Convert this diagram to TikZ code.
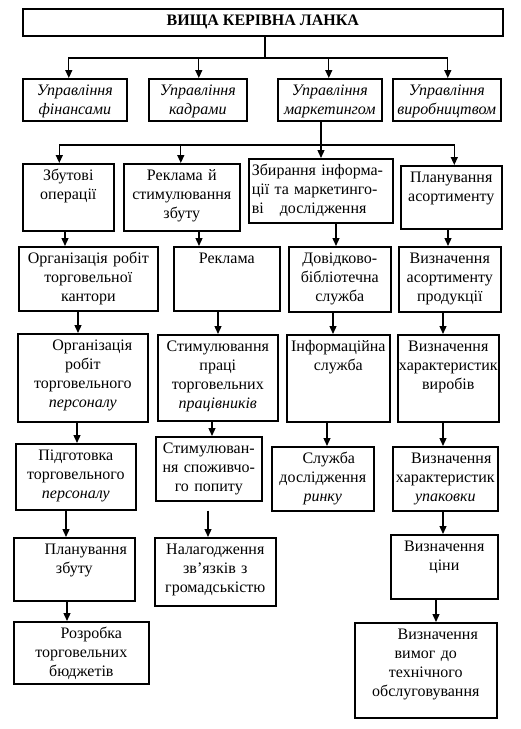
\documentclass[tikz,border=0pt]{standalone}
\usepackage{fontspec}
\setmainfont{Liberation Serif}
\usetikzlibrary{arrows.meta}

\begin{document}
\begin{tikzpicture}[x=1pt,y=-1pt]
    \tikzset{
        blk/.style={draw, line width=1.6pt, anchor=north west, align=center,
            inner xsep=0pt, inner ysep=4pt, text height=13pt,
            font=\fontsize{16}{19}\selectfont},
        head/.style={blk, font=\fontsize{16}{19}\selectfont\itshape},
        arr/.style={line width=1.3pt, -{Triangle[length=8pt,width=7pt]}}
    }
    \useasboundingbox (0,0) rectangle (521,729);
    \node[draw, line width=1.6pt, anchor=north west, minimum width=480, minimum height=27,
        font=\fontsize{16}{19}\selectfont\bfseries] (top) at (22,8) {ВИЩА КЕРІВНА ЛАНКА};

    \node[head, text width=104, text depth=21pt] (uf) at (22,78) {Управління\\фінансами};
    \node[head, text width=98, text depth=21pt] (uk) at (148,78) {Управління\\кадрами};
    \node[head, text width=104, text depth=21pt] (um) at (277,78) {Управління\\маркетингом};
    \node[head, text width=108, text depth=21pt] (uv) at (392,78) {Управління\\виробництвом};

    \node[blk, text width=91, text depth=46pt] (zb) at (22,163) {Збутові\\операції};
    \node[blk, text width=116, text depth=46pt] (rs) at (123,163) {Реклама й\\стимулювання\\збуту};
    \node[blk, align=left, text width=144, text depth=43pt] (zi) at (248,158)
        {\hspace*{3pt}Збирання інформа-\\\hspace*{3pt}ції та маркетинго-\\\hspace*{3pt}ві\ \ \ дослідження};
    \node[blk, text width=101, text depth=42pt] (pa) at (400,165) {Планування\\асортименту};

    \node[blk, text width=139, text depth=43pt] (ork) at (18,246) {Організація робіт\\торговельної\\кантори};
    \node[blk, text width=106, text depth=43pt] (rek) at (173,246) {Реклама};
    \node[blk, text width=102, text depth=44pt] (db) at (288,246) {Довідково-\\бібліотечна\\служба};
    \node[blk, text width=102, text depth=44pt] (va) at (398,246) {Визначення\\асортименту\\продукції};

    \node[blk, text width=130, text depth=67pt] (orp) at (17,333)
        {\hspace*{19pt}Організація\\робіт\\торговельного\\\textit{персоналу}};
    \node[blk, text width=120, text depth=65pt] (stp) at (157,334)
        {Стимулювання\\праці\\торговельних\\\textit{працівників}};
    \node[blk, text width=103, text depth=66pt] (inf) at (286,334) {Інформаційна\\служба};
    \node[blk, text width=101, text depth=66pt] (vh) at (397,334) {Визначення\\характеристик\\виробів};

    \node[blk, text width=120, text depth=45pt] (pt) at (15,443) {Підготовка\\торговельного\\\textit{персоналу}};
    \node[blk, text width=106, text depth=43pt] (ssp) at (155,436) {Стимулюван-\\ня споживчо-\\го попиту};
    \node[blk, text width=102, text depth=43pt] (sdr) at (271,446) {\hspace*{12pt}Служба\\дослідження\\\textit{ринку}};
    \node[blk, text width=105, text depth=43pt] (vhu) at (392,446)
        {\hspace*{12pt}Визначення\\характеристик\\\textit{упаковки}};

    \node[blk, text width=121, text depth=42pt] (plz) at (13,537) {\hspace*{23pt}Планування\\збуту};
    \node[blk, text width=121, text depth=47pt] (nzg) at (154,537) {Налагодження\\зв’язків з\\громадськістю};
    \node[blk, text width=107, text depth=43pt] (vc) at (390,534) {Визначення\\ціни};

    \node[blk, text width=135, text depth=41pt] (rtb) at (13,621) {\hspace*{20pt}Розробка\\торговельних\\бюджетів};
    \node[blk, text width=142, text depth=74pt] (vvt) at (354,622)
        {\hspace*{24pt}Визначення\\вимог до\\технічного\\обслуговування};

    \coordinate (b1) at (265,58);
    \coordinate (b2) at (321,145);
    \draw[line width=1.3pt] (top.south -| b1) -- (b1);
    \foreach \n/\s in {uf/-6, uk/1, um/-1, uv/1}
        \draw[arr] (b1) -| ([xshift=\s pt]\n.north);
    \draw[arr] (um.south -| b2) -- (zi.north -| b2);
    \foreach \n/\s in {zb/-9, rs/-1, pa/3}
        \draw[arr] (b2) -| ([xshift=\s pt]\n.north);

    \foreach \a/\b/\x in {zb/ork/65, rs/rek/199, zi/db/336, pa/va/448,
        ork/orp/78, rek/stp/218, db/inf/333, va/vh/443,
        orp/pt/77, stp/ssp/212, inf/sdr/327, vh/vhu/443,
        pt/plz/66, vhu/vc/443, plz/rtb/67, vc/vvt/436}
        \draw[arr] (\a.south -| \x,0) -- (\b.north -| \x,0);
    \draw[arr, shorten <=9pt] (ssp.south -| 208,0) -- (nzg.north -| 208,0);
\end{tikzpicture}
\end{document}
